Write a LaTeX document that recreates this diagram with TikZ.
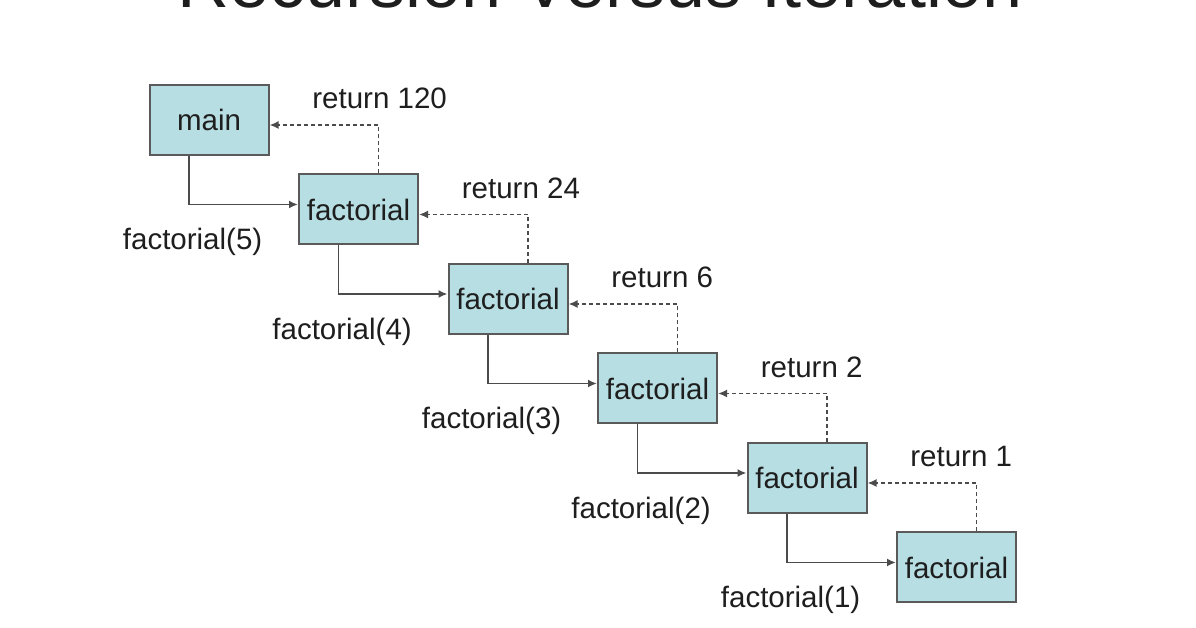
\documentclass[tikz,border=0pt]{standalone}
\usepackage{fontspec}
\setmainfont{Liberation Sans}
\usetikzlibrary{positioning,arrows.meta}
\definecolor{boxfill}{RGB}{183,222,226}
\definecolor{boxline}{RGB}{90,90,90}
\definecolor{inkgray}{RGB}{30,30,30}

\begin{document}
\begin{tikzpicture}[x=1pt,y=1pt]
        \tikzstyle{every node}=[font=\fontsize{29.5}{34}\selectfont, text=inkgray, inner sep=0pt]
        \tikzstyle{frame}=[draw=boxline, fill=boxfill, line width=2pt, minimum width=119pt, minimum height=70pt]
        \tikzstyle{call}=[draw=inkgray!80, line width=1.8pt, -{Latex[length=9pt,width=8pt]}]
        \tikzstyle{ret}=[call, dash pattern=on 4pt off 3pt]
        \clip (0,0) rectangle (1196,628);
        \fill[white] (0,0) rectangle (1196,628);
        \node[font=\fontsize{72}{80}\selectfont, anchor=base] (title) at (600,620) {Recursion Versus Iteration};
        \node[frame] (f0) at (209,508) {main};
        \foreach \i/\n/\r [count=\j from 0] in {1/5/120, 2/4/24, 3/3/6, 4/2/2, 5/1/1} {
            \node[frame, below right=17.5pt and 28.5pt of f\j] (f\i) {factorial};
            \draw[call] ([xshift=-20pt]f\j.south) |- node[below right=23pt and -67pt] (c\i) {factorial(\n)} ([yshift=5pt]f\i.west);
            \draw[ret] ([xshift=20pt]f\i.north) |- node[above right=15pt and -67pt] (r\i) {return \r} ([yshift=-5pt]f\j.east);
        }
\end{tikzpicture}
\end{document}
